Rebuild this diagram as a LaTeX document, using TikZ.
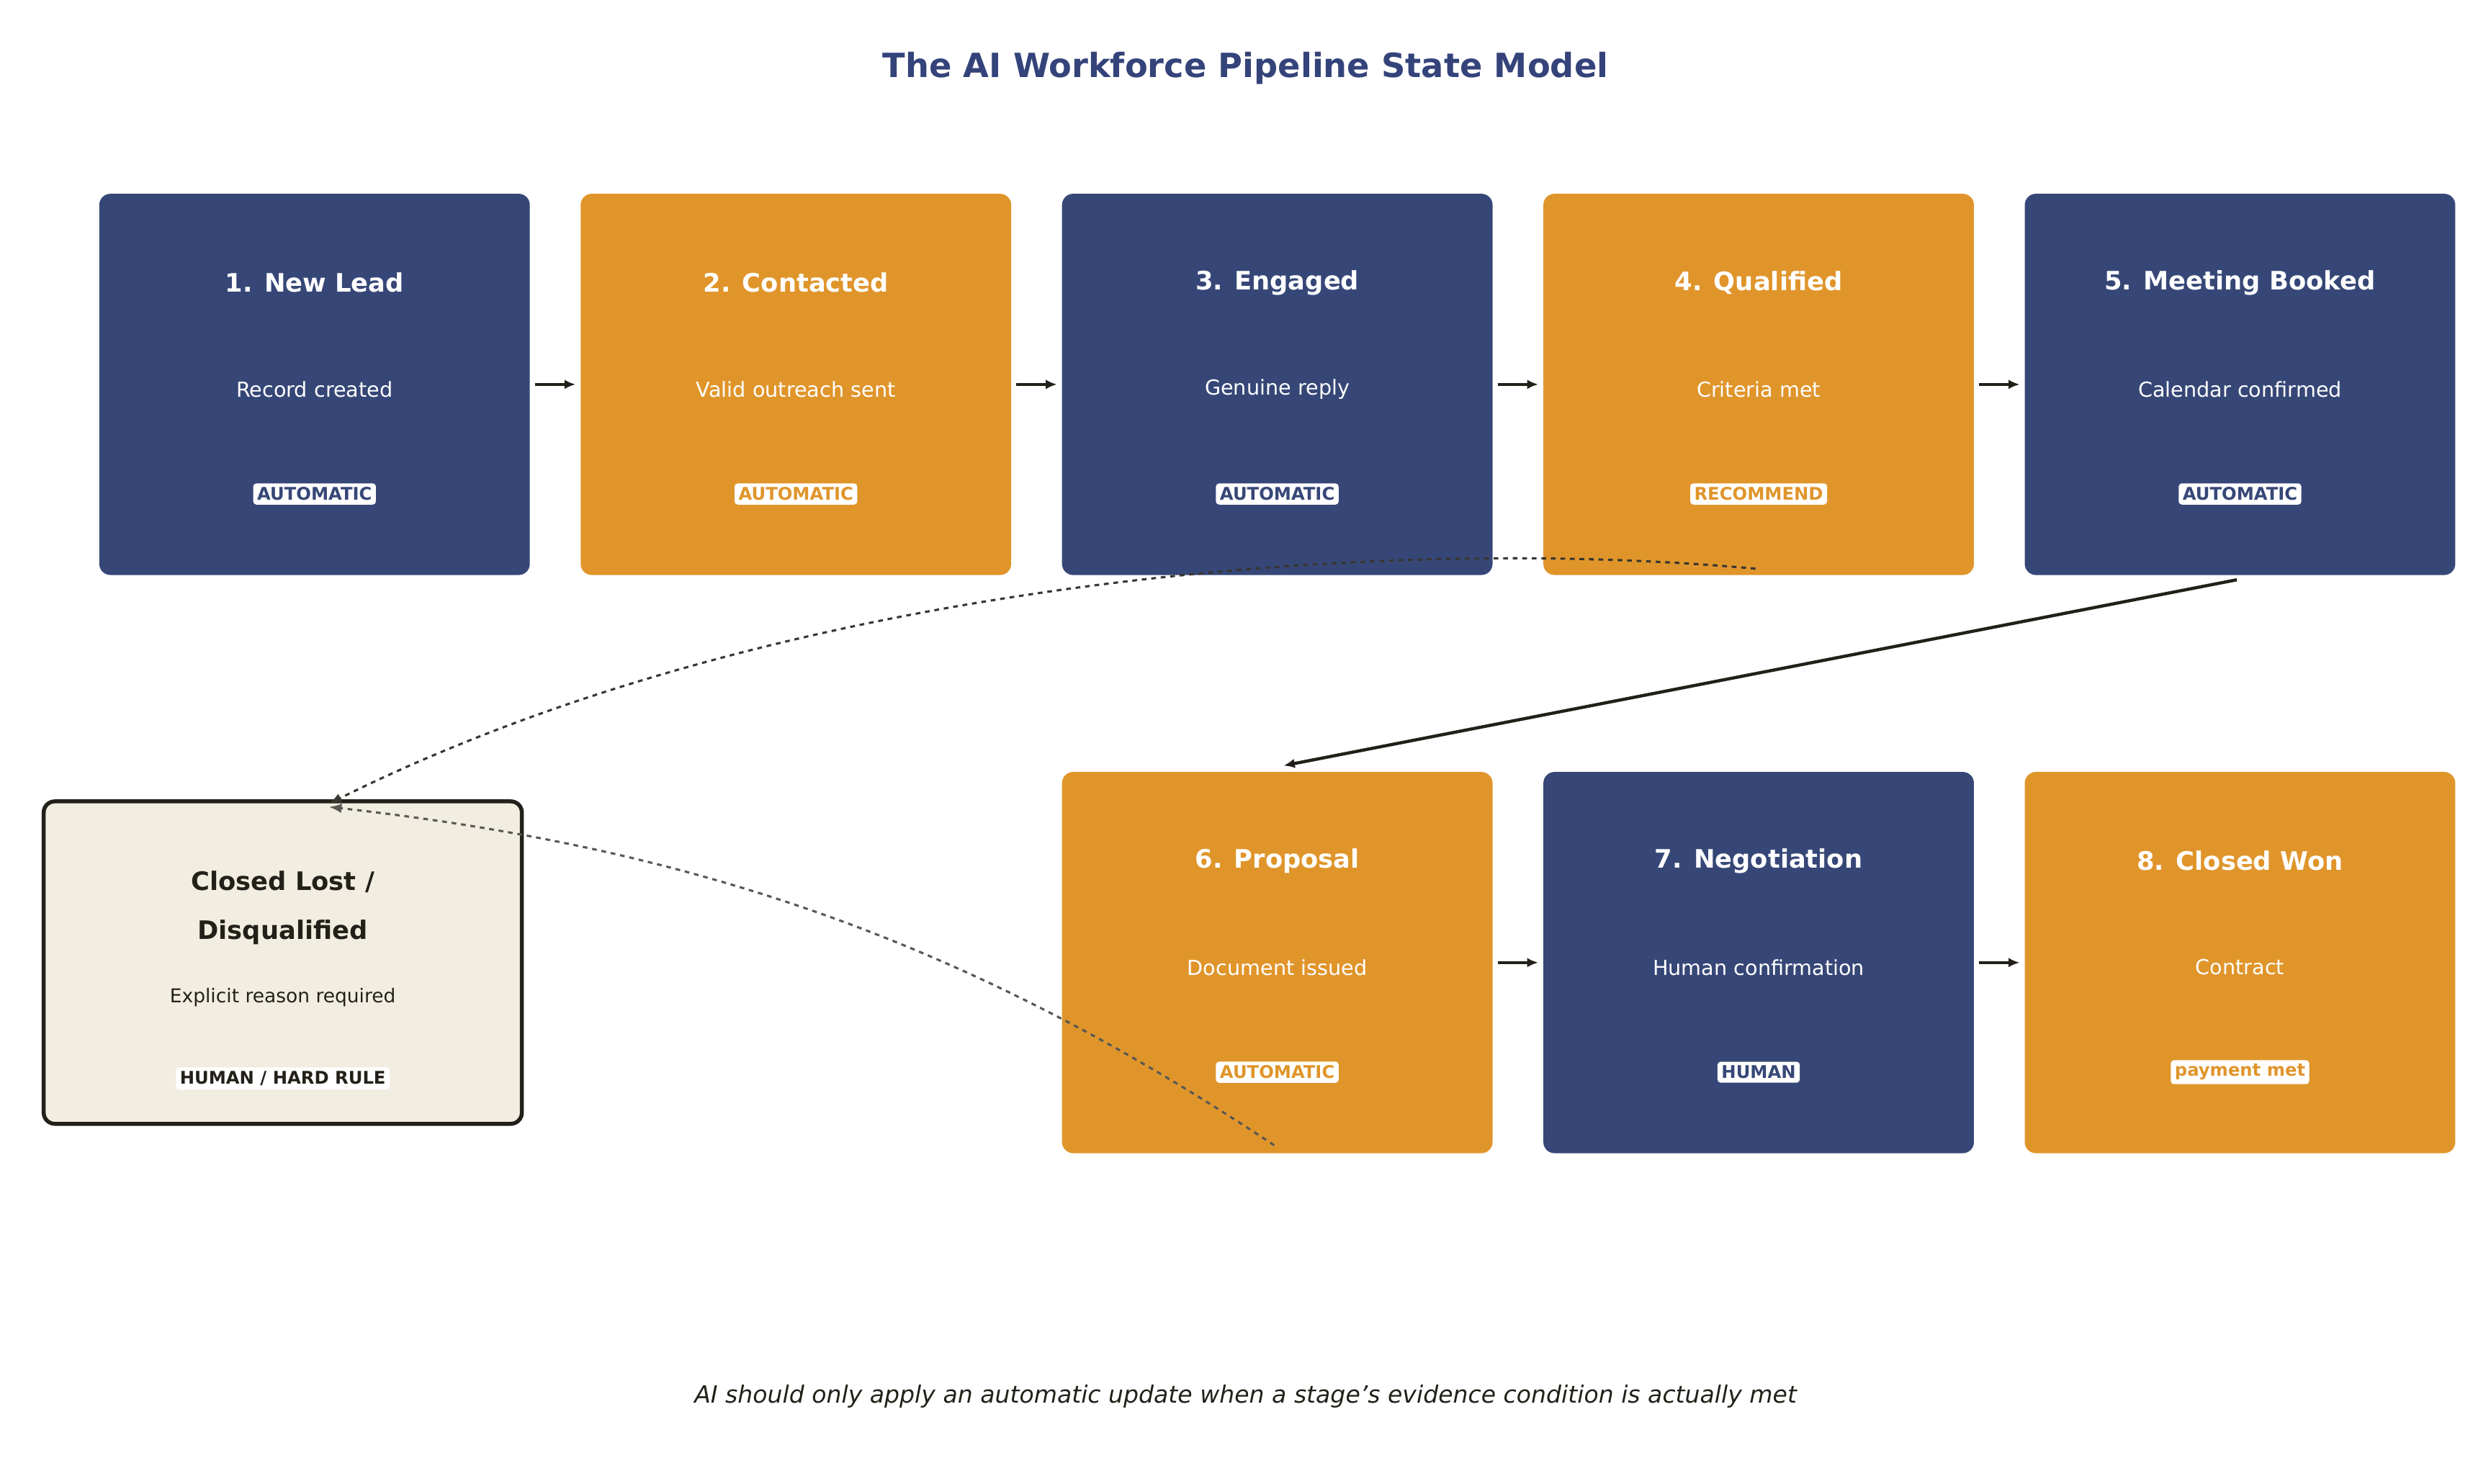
\documentclass[tikz,border=0pt]{standalone}
\usepackage{fontspec}
\setmainfont{DejaVu Sans}
\usetikzlibrary{arrows.meta}
\definecolor{navy}{HTML}{364777}
\definecolor{ora}{HTML}{E0952B}
\definecolor{dark}{HTML}{222019}
\definecolor{cream}{HTML}{F2EDE1}
\definecolor{ttl}{HTML}{34437A}
\tikzset{
 stage/.style={rounded corners=7pt, minimum width=271pt, minimum height=240pt, inner sep=0pt},
 ttext/.style={text=white, font=\fontsize{16}{19}\selectfont\bfseries},
 stext/.style={text=white, font=\fontsize{13}{16}\selectfont},
 badge/.style={fill=white, rounded corners=2pt, inner sep=2.5pt, font=\fontsize{11}{13}\selectfont\bfseries},
 flow/.style={-{Latex[length=7pt,width=6pt]}, line width=1.8pt, draw=dark},
}
\begin{document}
\begin{tikzpicture}[x=1pt,y=-1pt]
\useasboundingbox (0,0) rectangle (1568,934);
\node[text=ttl, font=\fontsize{21}{25}\selectfont\bfseries] (title) at (784,43) {The AI Workforce Pipeline State Model};
\foreach \n/\x/\y/\c/\t/\s/\b in {
 1/198/242/navy/1. New Lead/Record created/AUTOMATIC,
 2/501/242/ora/2. Contacted/Valid outreach sent/AUTOMATIC,
 3/804/242/navy/3. Engaged/Genuine reply/AUTOMATIC,
 4/1107/242/ora/4. Qualified/Criteria met/RECOMMEND,
 5/1410/242/navy/5. Meeting Booked/Calendar confirmed/AUTOMATIC,
 6/804/606/ora/6. Proposal/Document issued/AUTOMATIC,
 7/1107/606/navy/7. Negotiation/Human confirmation/HUMAN,
 8/1410/606/ora/8. Closed Won/Contract/payment met/HARD RULE}{
 \node[stage, fill=\c] (s\n) at (\x,\y) {};
 \node[ttext] (t\n) at (\x,\y-64) {\t};
 \node[stext] (u\n) at (\x,\y+3) {\s};
 \node[badge, text=\c] (b\n) at (\x,\y+69) {\b};
}
\node[draw=dark, line width=2.5pt, fill=cream, rounded corners=7pt, minimum width=301pt, minimum height=203pt] (lost) at (178,606) {};
\node[text=dark, font=\fontsize{16}{19}\selectfont\bfseries] (lt1) at (178,555) {Closed Lost /};
\node[text=dark, font=\fontsize{16}{19}\selectfont\bfseries] (lt2) at (178,587) {Disqualified};
\node[text=dark, font=\fontsize{12}{15}\selectfont] (ls) at (178,628) {Explicit reason required};
\node[badge, text=dark] (lb) at (178,679) {HUMAN / HARD RULE};
\foreach \a/\b in {1/2,2/3,3/4,4/5,6/7,7/8}{
 \draw[flow] ([xshift=3pt]s\a.east) -- ([xshift=-3pt]s\b.east-|s\b.west);
}
\coordinate (p5) at (1408,365);
\coordinate (p6) at (808,482);
\draw[flow, line width=2pt] (p5) -- (p6);
\coordinate (q4) at (1105,358);
\coordinate (ql) at (207,506);
\draw[dashed, line width=1.4pt, draw=dark!90, -{Latex[length=8pt,width=6pt]}] (q4) .. controls (850,335) and (480,370) .. (ql);
\coordinate (q6) at (802,721);
\coordinate (ql2) at (207,508);
\draw[dashed, line width=1.4pt, draw=dark!75, -{Latex[length=8pt,width=6pt]}] (q6) .. controls (620,600) and (450,535) .. (ql2);
\node[text=dark, font=\fontsize{15}{18}\selectfont\itshape] (foot) at (784,879) {AI should only apply an automatic update when a stage's evidence condition is actually met};
\end{tikzpicture}
\end{document}
